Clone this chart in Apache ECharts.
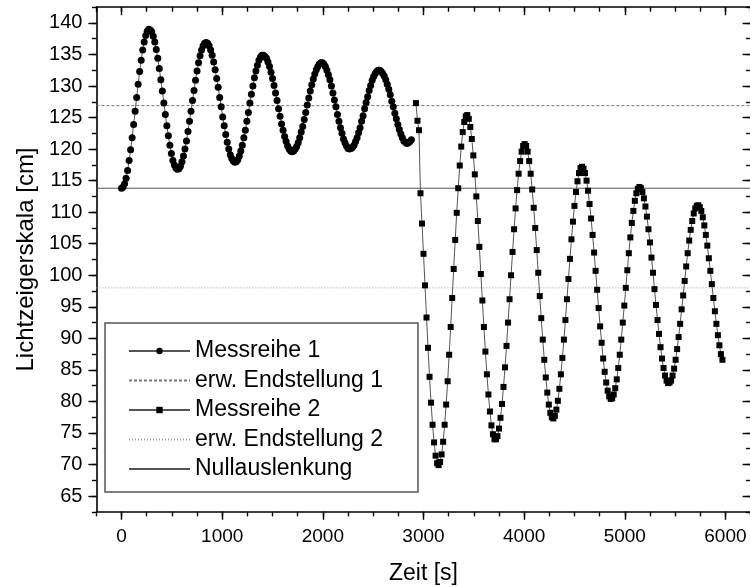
<!DOCTYPE html>
<html><head><meta charset="utf-8">
<script src="https://cdn.jsdelivr.net/npm/echarts@6/dist/echarts.min.js"></script>
<style>html,body{margin:0;padding:0;background:#fff}#c{width:750px;height:586px}</style>
</head><body><div id="c"></div>
<script>
// ---- data ----
const times1 = [
  0,15,30,45,60,75,90,105,120,135,
  150,165,180,195,210,225,240,255,270,285,
  300,315,330,345,360,375,390,405,420,435,
  450,465,480,495,510,525,540,555,570,585,
  600,615,630,645,660,675,690,705,720,735,
  750,765,780,795,810,825,840,855,870,885,
  900,915,930,945,960,975,990,1005,1020,1035,
  1050,1065,1080,1095,1110,1125,1140,1155,1170,1185,
  1200,1215,1230,1245,1260,1275,1290,1305,1320,1335,
  1350,1365,1380,1395,1410,1425,1440,1455,1470,1485,
  1500,1515,1530,1545,1560,1575,1590,1605,1620,1635,
  1650,1665,1680,1695,1710,1725,1740,1755,1770,1785,
  1800,1815,1830,1845,1860,1875,1890,1905,1920,1935,
  1950,1965,1980,1995,2010,2025,2040,2055,2070,2085,
  2100,2115,2130,2145,2160,2175,2190,2205,2220,2235,
  2250,2265,2280,2295,2310,2325,2340,2355,2370,2385,
  2400,2415,2430,2445,2460,2475,2490,2505,2520,2535,
  2550,2565,2580,2595,2610,2625,2640,2655,2670,2685,
  2700,2715,2730,2745,2760,2775,2790,2805,2820,2835,
  2850,2865,2880
];
const values1 = [
  113.8,114.0,114.5,115.4,116.6,118.2,119.9,121.8,123.9,126.0,
  128.2,130.3,132.3,134.1,135.7,137.0,138.0,138.7,139.0,138.9,
  138.6,137.9,137.0,135.8,134.4,132.8,131.0,129.2,127.3,125.5,
  123.7,122.1,120.6,119.3,118.2,117.5,117.0,116.8,116.9,117.3,
  118.0,118.9,120.0,121.3,122.8,124.4,126.0,127.7,129.3,130.9,
  132.4,133.7,134.8,135.7,136.4,136.8,136.9,136.8,136.4,135.7,
  134.9,133.8,132.6,131.2,129.8,128.2,126.7,125.1,123.7,122.3,
  121.1,120.0,119.1,118.5,118.1,117.9,118.0,118.3,118.9,119.7,
  120.6,121.8,123.0,124.4,125.8,127.3,128.7,130.0,131.3,132.4,
  133.3,134.1,134.6,134.9,134.9,134.7,134.4,133.8,133.1,132.2,
  131.2,130.1,128.9,127.7,126.4,125.2,124.0,123.0,122.0,121.2,
  120.5,120.0,119.7,119.6,119.7,120.0,120.4,121.0,121.8,122.7,
  123.6,124.7,125.8,127.0,128.1,129.2,130.2,131.1,131.9,132.6,
  133.1,133.5,133.7,133.7,133.5,133.1,132.5,131.8,131.0,130.0,
  128.9,127.8,126.7,125.5,124.4,123.4,122.5,121.6,121.0,120.5,
  120.1,120.0,120.1,120.3,120.6,121.2,121.8,122.6,123.4,124.4,
  125.3,126.4,127.4,128.3,129.3,130.1,130.9,131.5,132.0,132.3,
  132.5,132.5,132.3,132.0,131.6,131.0,130.3,129.5,128.6,127.6,
  126.7,125.7,124.8,123.9,123.1,122.4,121.8,121.3,121.1,120.9,
  121.0,121.2,121.5
];
const times2 = [
  2925,2940,2955,2970,2985,3000,3015,3030,3045,3060,
  3075,3090,3105,3120,3135,3150,3165,3180,3195,3210,
  3225,3240,3255,3270,3285,3300,3315,3330,3345,3360,
  3375,3390,3405,3420,3435,3450,3465,3480,3495,3510,
  3525,3540,3555,3570,3585,3600,3615,3630,3645,3660,
  3675,3690,3705,3720,3735,3750,3765,3780,3795,3810,
  3825,3840,3855,3870,3885,3900,3915,3930,3945,3960,
  3975,3990,4005,4020,4035,4050,4065,4080,4095,4110,
  4125,4140,4155,4170,4185,4200,4215,4230,4245,4260,
  4275,4290,4305,4320,4335,4350,4365,4380,4395,4410,
  4425,4440,4455,4470,4485,4500,4515,4530,4545,4560,
  4575,4590,4605,4620,4635,4650,4665,4680,4695,4710,
  4725,4740,4755,4770,4785,4800,4815,4830,4845,4860,
  4875,4890,4905,4920,4935,4950,4965,4980,4995,5010,
  5025,5040,5055,5070,5085,5100,5115,5130,5145,5160,
  5175,5190,5205,5220,5235,5250,5265,5280,5295,5310,
  5325,5340,5355,5370,5385,5400,5415,5430,5445,5460,
  5475,5490,5505,5520,5535,5550,5565,5580,5595,5610,
  5625,5640,5655,5670,5685,5700,5715,5730,5745,5760,
  5775,5790,5805,5820,5835,5850,5865,5880,5895,5910,
  5925,5940,5955,5970
];
const values2 = [
  127.3,124.5,123.0,113.0,108.2,103.4,98.4,93.3,88.5,83.9,
  79.8,76.3,73.5,71.4,70.2,69.9,70.4,71.6,73.6,76.3,
  79.5,83.2,87.4,91.8,96.4,101.0,105.6,109.9,113.8,117.4,
  120.4,122.7,124.3,125.2,125.4,124.8,123.5,121.6,119.0,116.0,
  112.5,108.6,104.5,100.2,96.0,91.8,87.9,84.3,81.1,78.4,
  76.2,74.8,74.0,74.0,74.5,75.7,77.4,79.6,82.3,85.4,
  88.8,92.5,96.2,100.0,103.7,107.3,110.6,113.5,116.1,118.1,
  119.6,120.5,120.8,120.5,119.6,118.1,116.1,113.6,110.7,107.5,
  104.0,100.4,96.7,93.2,89.8,86.6,83.8,81.4,79.5,78.2,
  77.5,77.3,77.7,78.7,80.1,82.0,84.3,86.9,89.8,92.9,
  96.2,99.4,102.6,105.7,108.5,111.0,113.2,114.9,116.2,117.0,
  117.2,116.9,116.2,115.0,113.4,111.3,109.0,106.4,103.6,100.7,
  97.7,94.8,91.9,89.3,86.8,84.7,83.0,81.7,80.8,80.4,
  80.5,81.1,82.1,83.5,85.3,87.4,89.8,92.5,95.2,98.0,
  100.8,103.5,106.0,108.3,110.2,111.8,113.0,113.7,114.0,113.8,
  113.2,112.2,110.9,109.3,107.3,105.2,102.8,100.4,97.8,95.3,
  92.9,90.7,88.6,86.8,85.3,84.1,83.3,82.9,83.0,83.3,
  84.1,85.2,86.6,88.3,90.2,92.3,94.6,96.8,99.1,101.4,
  103.5,105.5,107.2,108.6,109.8,110.6,111.0,111.1,110.8,110.2,
  109.2,107.9,106.4,104.7,102.7,100.7,98.6,96.4,94.3,92.3,
  90.5,88.9,87.5,86.6
];
const endstellung1 = 126.9;
const endstellung2 = 98.0;
const nullauslenkung = 113.8;
const xRange = [-250, 6250];
const yRange = [62.5, 142.5];
const xTickLabels = [0, 1000, 2000, 3000, 4000, 5000, 6000];
const yTickLabels = [65, 70, 75, 80, 85, 90, 95, 100, 105, 110, 115, 120, 125, 130, 135, 140];
const seriesNames = ['Messreihe 1', 'erw. Endstellung 1', 'Messreihe 2', 'erw. Endstellung 2', 'Nullauslenkung'];
const xTitle = 'Zeit [s]';
const yTitle = 'Lichtzeigerskala [cm]';

if (times1.length !== values1.length) throw new Error('series 1 length mismatch ' + times1.length + ' ' + values1.length);
if (times2.length !== values2.length) throw new Error('series 2 length mismatch ' + times2.length + ' ' + values2.length);

// ---- chart ----
const FONT = "'Liberation Sans', Arial, sans-serif";
const pairs1 = times1.map((t, i) => [t, values1[i]]);
const pairs2 = times2.map((t, i) => [t, values2[i]]);
const level = v => [[xRange[0], v], [xRange[1], v]];
const plain = v => String(v);

const G = { left: 96.4, top: 7.2, width: 654.2, height: 504.6, containLabel: false, outerBoundsMode: 'none' };
const axLine = { show: true, onZero: false, lineStyle: { color: '#000', width: 1.6 } };
const tickStyle = { color: '#000', width: 1.4 };
const MAJ = 8, MIN = 4.5;

function xAx(grid, pos, major) {
  return {
    type: 'value', gridIndex: grid, position: pos, min: xRange[0], max: xRange[1],
    interval: major ? undefined : 250,
    axisLine: major ? axLine : { show: false, onZero: false },
    axisTick: major ? { show: true, customValues: xTickLabels, length: MAJ, inside: pos === 'top', lineStyle: tickStyle }
                    : { show: true, length: MIN, inside: pos === 'top', lineStyle: tickStyle },
    axisLabel: (major && pos === 'bottom') ? { show: true, customValues: xTickLabels, formatter: plain, fontSize: 19, color: '#000', fontFamily: FONT, margin: 15 } : { show: false },
    splitLine: { show: false },
    name: (major && pos === 'bottom') ? xTitle : '',
    nameLocation: 'middle', nameGap: 50,
    nameTextStyle: { fontSize: 23, color: '#000', fontFamily: FONT }
  };
}
function yAx(grid, pos, major) {
  return {
    type: 'value', gridIndex: grid, position: pos, min: yRange[0], max: yRange[1],
    interval: major ? undefined : 2.5,
    axisLine: major ? axLine : { show: false, onZero: false },
    axisTick: major ? { show: true, customValues: yTickLabels, length: MAJ, inside: pos === 'right', lineStyle: tickStyle }
                    : { show: true, length: MIN, inside: pos === 'right', lineStyle: tickStyle },
    axisLabel: (major && pos === 'left') ? { show: true, customValues: yTickLabels, formatter: plain, fontSize: 20, color: '#000', fontFamily: FONT, margin: 14 } : { show: false },
    splitLine: { show: false },
    name: (major && pos === 'left') ? yTitle : '',
    nameLocation: 'middle', nameGap: 57,
    nameTextStyle: { fontSize: 24, color: '#000', fontFamily: FONT }
  };
}

const chart = echarts.init(document.getElementById('c'), null, { renderer: 'canvas' });
chart.setOption({
  animation: false,
  backgroundColor: '#fff',
  grid: [Object.assign({}, G), Object.assign({}, G)],
  xAxis: [xAx(0, 'bottom', true), xAx(0, 'top', true), xAx(1, 'bottom', false), xAx(1, 'top', false)],
  yAxis: [yAx(0, 'left', true), yAx(0, 'right', true), yAx(1, 'left', false), yAx(1, 'right', false)],
  legend: {
    orient: 'vertical', left: 105, top: 323,
    padding: [16.5, 35, 11.5, 23],
    itemWidth: 61, itemHeight: 8, itemGap: 6.5,
    backgroundColor: '#fff', borderColor: '#555', borderWidth: 1.5, borderRadius: 0,
    textStyle: { fontSize: 23, color: '#000', fontFamily: FONT },
    data: [
      seriesNames[0],
      { name: seriesNames[1], itemStyle: { opacity: 0 } },
      seriesNames[2],
      { name: seriesNames[3], itemStyle: { opacity: 0 } },
      { name: seriesNames[4], itemStyle: { opacity: 0 } }
    ],
    selectedMode: false
  },
  series: [
    { name: seriesNames[1], type: 'line', xAxisIndex: 0, yAxisIndex: 0, data: level(endstellung1), symbol: 'none', z: 1,
      itemStyle: { color: 'rgba(0,0,0,0)' }, lineStyle: { color: '#777', width: 1, type: [3, 2] }, silent: true },
    { name: seriesNames[3], type: 'line', xAxisIndex: 0, yAxisIndex: 0, data: level(endstellung2), symbol: 'none', z: 1,
      itemStyle: { color: 'rgba(0,0,0,0)' }, lineStyle: { color: '#999', width: 1, type: [1, 2] }, silent: true },
    { name: seriesNames[4], type: 'line', xAxisIndex: 0, yAxisIndex: 0, data: level(nullauslenkung), symbol: 'none', z: 1,
      itemStyle: { color: 'rgba(0,0,0,0)' }, lineStyle: { color: '#555', width: 1 }, silent: true },
    { name: seriesNames[0], type: 'line', xAxisIndex: 0, yAxisIndex: 0, data: pairs1, z: 3,
      symbol: 'circle', symbolSize: 7, showAllSymbol: true,
      itemStyle: { color: '#000' }, lineStyle: { color: '#555', width: 1 }, silent: true },
    { name: seriesNames[2], type: 'line', xAxisIndex: 0, yAxisIndex: 0, data: pairs2, z: 3,
      symbol: 'rect', symbolSize: 6, showAllSymbol: true,
      itemStyle: { color: '#000' }, lineStyle: { color: '#555', width: 1 }, silent: true }
  ]
});
</script></body></html>
